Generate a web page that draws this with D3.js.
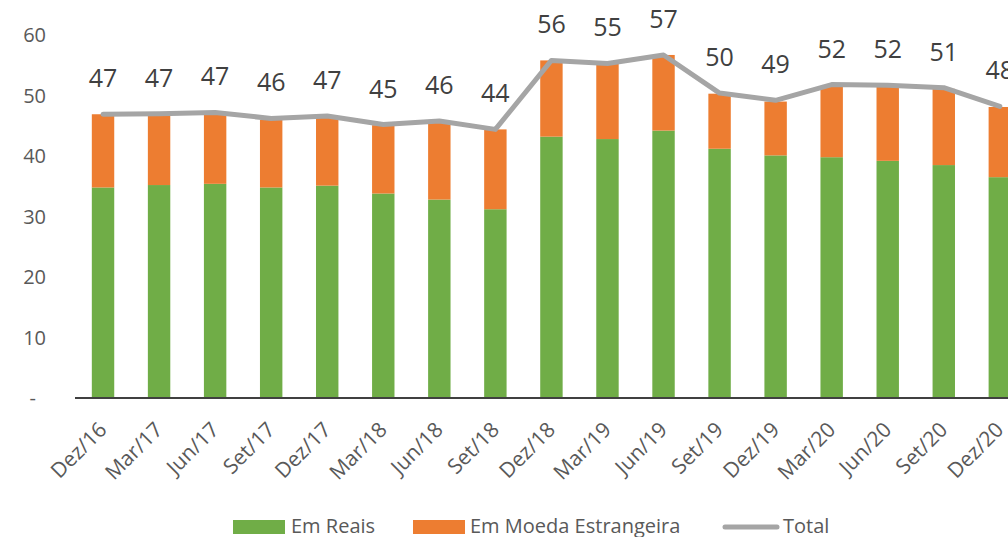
<!DOCTYPE html>
<html>
<head>
<meta charset="utf-8">
<script src="https://cdn.jsdelivr.net/npm/d3@7"></script>
<style>
  body { margin: 0; background: #fff; }
  text { font-family: "Open Sans", "Noto Sans", sans-serif; }
</style>
</head>
<body>
<div id="chart"></div>
<script>
var periods = ['Dez/16','Mar/17','Jun/17','Set/17','Dez/17','Mar/18','Jun/18','Set/18',
  'Dez/18','Mar/19','Jun/19','Set/19','Dez/19','Mar/20','Jun/20','Set/20','Dez/20']

var emReais = [34.8, 35.2, 35.4, 34.8, 35.1, 33.8, 32.8, 31.2, 43.2, 42.8, 44.2, 41.2, 40.1, 39.8, 39.2, 38.5, 36.5]
var emMoeda = [12.1, 11.6, 11.5, 11.2, 11.3, 11.3, 12.9, 13.2, 12.6, 12.5, 12.5, 9.1, 8.9, 11.8, 12.3, 12.6, 11.6]
var total   = [46.9, 47.0, 47.2, 46.2, 46.6, 45.2, 45.8, 44.4, 55.8, 55.3, 56.7, 50.4, 49.2, 51.8, 51.7, 51.3, 48.2]

var yTicks = [0, 10, 20, 30, 40, 50, 60]
var seriesNames = ['Em Reais', 'Em Moeda Estrangeira', 'Total']

var W = 1008, H = 537
var svg = d3.select('#chart').append('svg').attr('width', W).attr('height', H)

var x = d3.scaleBand().domain(periods).range([75, 75 + 17 * 56.05]).paddingInner(0.6).paddingOuter(0.3)
var y = d3.scaleLinear().domain([0, 60]).range([398, 35])

var rows = periods.map(function(p, i){ return {p: p, a: emReais[i], b: emMoeda[i], t: total[i]} })

// y axis labels (no line)
svg.append('g').selectAll('text').data(yTicks).join('text')
  .attr('x', function(d){ return d === 0 ? 36 : 46 })
  .attr('y', function(d){ return y(d) })
  .attr('dy', '0.35em')
  .attr('text-anchor', 'end')
  .attr('fill', '#595959')
  .style('font-size', '20px')
  .text(function(d){ return d === 0 ? '-' : d })

// stacked bars
var bars = svg.append('g')
bars.selectAll('rect.reais').data(rows).join('rect').attr('class', 'reais')
  .attr('x', function(d){ return x(d.p) })
  .attr('width', x.bandwidth())
  .attr('y', function(d){ return y(d.a) })
  .attr('height', function(d){ return y(0) - y(d.a) })
  .attr('fill', '#70AD47')
bars.selectAll('rect.moeda').data(rows).join('rect').attr('class', 'moeda')
  .attr('x', function(d){ return x(d.p) })
  .attr('width', x.bandwidth())
  .attr('y', function(d){ return y(d.a + d.b) })
  .attr('height', function(d){ return y(d.a) - y(d.a + d.b) })
  .attr('fill', '#ED7D31')

// baseline
svg.append('line').attr('x1', 75).attr('x2', W).attr('y1', y(0)).attr('y2', y(0))
  .attr('stroke', '#404040').attr('stroke-width', 2)

// total line
var cx = function(d){ return x(d.p) + x.bandwidth() / 2 }
var line = d3.line().x(cx).y(function(d){ return y(d.t) })
svg.append('path').attr('d', line(rows))
  .attr('fill', 'none').attr('stroke', '#A5A5A5').attr('stroke-width', 5)
  .attr('stroke-linejoin', 'round').attr('stroke-linecap', 'round')

svg.append('g').selectAll('text').data(rows).join('text')
  .attr('x', cx)
  .attr('y', function(d){ return y(d.t) - 27 })
  .attr('text-anchor', 'middle')
  .attr('fill', '#404040')
  .style('font-size', '25px')
  .text(function(d){ return Math.round(d.t) })

// x labels
svg.append('g').selectAll('text').data(periods).join('text')
  .attr('transform', function(d){ return 'translate(' + (x(d) + x.bandwidth() / 2 + 5) + ',' + 431 + ') rotate(-45)' })
  .attr('text-anchor', 'end')
  .attr('fill', '#595959')
  .style('font-size', '21px')
  .text(function(d){ return d })

// legend
var lg = svg.append('g')
lg.append('rect').attr('x', 233).attr('y', 520).attr('width', 52).attr('height', 14).attr('fill', '#70AD47')
lg.append('text').attr('x', 291).attr('y', 533).attr('fill', '#595959').style('font-size', '20px').text(seriesNames[0])
lg.append('rect').attr('x', 413).attr('y', 520).attr('width', 52).attr('height', 14).attr('fill', '#ED7D31')
lg.append('text').attr('x', 470).attr('y', 533).attr('fill', '#595959').style('font-size', '20px').text(seriesNames[1])
lg.append('line').attr('x1', 725).attr('x2', 777).attr('y1', 527).attr('y2', 527)
  .attr('stroke', '#A5A5A5').attr('stroke-width', 5).attr('stroke-linecap', 'round')
lg.append('text').attr('x', 783).attr('y', 533).attr('fill', '#595959').style('font-size', '20px').text(seriesNames[2])
</script>
</body>
</html>
